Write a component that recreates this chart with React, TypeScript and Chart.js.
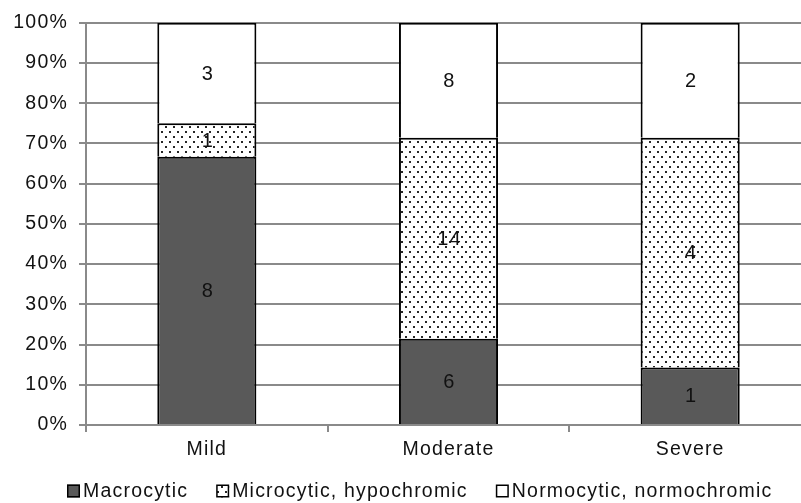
import React, { useEffect, useRef } from "react";
import { Chart, registerables } from "chart.js";

Chart.register(...registerables);

// ---- data ----
const categories = ["Mild", "Moderate", "Severe"];
const seriesNames = ["Macrocytic", "Microcytic, hypochromic", "Normocytic, normochromic"];
const macrocytic = [8, 6, 1];
const microcytic = [1, 14, 4];
const normocytic = [3, 8, 2];
const yTickValues = [0, 10, 20, 30, 40, 50, 60, 70, 80, 90, 100];

const FONT = '"Liberation Sans", Arial, sans-serif';
const FONT_SIZE = 19.5;
const SPACING = "1.2px";
const TEXT = "#111111";
const GRID = "#8a8a8a";

function makeDots(): CanvasPattern | string {
  const c = document.createElement("canvas");
  c.width = 8;
  c.height = 10;
  const g = c.getContext("2d");
  if (!g) return "#ddd";
  g.fillStyle = "#ffffff";
  g.fillRect(0, 0, 8, 10);
  g.fillStyle = "#262626";
  g.fillRect(1, 1, 2, 2);
  g.fillRect(5, 6, 2, 2);
  const p = g.createPattern(c, "repeat");
  return p || "#ddd";
}

export default function App() {
  const ref = useRef<HTMLCanvasElement | null>(null);

  useEffect(() => {
    const canvas = ref.current;
    if (!canvas) return;
    const counts = [macrocytic, microcytic, normocytic];
    const totals = categories.map((_, i) => counts.reduce((s, arr) => s + arr[i], 0));
    const pct = counts.map((arr) => arr.map((v, i) => (v / totals[i]) * 100));
    const dots = makeDots();
    const fills: (string | CanvasPattern)[] = ["#595959", dots, "#ffffff"];

    const spacingPlugin = {
      id: "spacing",
      beforeLayout(chart: any) {
        chart.ctx.letterSpacing = SPACING;
      },
      beforeDraw(chart: any) {
        chart.ctx.letterSpacing = SPACING;
      },
    };

    const labelPlugin = {
      id: "counts",
      afterDatasetsDraw(chart: any) {
        const ctx = chart.ctx as CanvasRenderingContext2D;
        ctx.save();
        ctx.font = `20px ${FONT}`;
        (ctx as any).letterSpacing = SPACING;
        ctx.fillStyle = TEXT;
        ctx.textAlign = "center";
        ctx.textBaseline = "middle";
        chart.data.datasets.forEach((_ds: any, di: number) => {
          const meta = chart.getDatasetMeta(di);
          meta.data.forEach((el: any, i: number) => {
            const p = el.getProps(["x", "y", "base"], true);
            ctx.fillText(String(counts[di][i]), p.x + 1, (p.y + p.base) / 2 + 1);
          });
        });
        ctx.restore();
      },
    };

    const legendPlugin = {
      id: "customLegend",
      afterDraw(chart: any) {
        const ctx = chart.ctx as CanvasRenderingContext2D;
        ctx.save();
        ctx.font = `${FONT_SIZE}px ${FONT}`;
        (ctx as any).letterSpacing = SPACING;
        ctx.textBaseline = "middle";
        ctx.textAlign = "left";
        let x = 67;
        const y = 491;
        seriesNames.forEach((name, i) => {
          ctx.fillStyle = fills[i] as any;
          ctx.fillRect(x, y - 6.5, 13, 13);
          ctx.strokeStyle = "#000";
          ctx.lineWidth = 1.5;
          ctx.strokeRect(x + 0.75, y - 5.75, 11.5, 11.5);
          ctx.fillStyle = TEXT;
          ctx.fillText(name, x + 16, y + 1);
          const w = ctx.measureText(name).width;
          x += 16 + w + 28;
        });
        ctx.restore();
      },
    };

    const chart = new Chart(canvas, {
      type: "bar",
      data: {
        labels: categories,
        datasets: seriesNames.map((name, i) => ({
          label: name,
          data: pct[i],
          backgroundColor: fills[i] as any,
          borderColor: "#000000",
          borderWidth: 2,
          borderSkipped: "start",
          categoryPercentage: 1,
          barPercentage: 0.41,
        })),
      },
      options: {
        animation: false,
        responsive: false,
        layout: { padding: { top: 17, right: 9, bottom: 30, left: 0 } },
        plugins: {
          legend: { display: false },
          tooltip: { enabled: false },
        },
        scales: {
          x: {
            stacked: true,
            offset: true,
            grid: {
              display: true,
              offset: true,
              drawOnChartArea: false,
              drawTicks: true,
              tickLength: 7,
              color: GRID,
              lineWidth: 2,
            },
            border: { display: true, color: GRID, width: 2 },
            ticks: {
              color: TEXT,
              font: { family: FONT, size: FONT_SIZE },
              padding: 6,
              maxRotation: 0,
            },
            afterFit(scale: any) {
              scale.height = 48;
            },
          },
          y: {
            stacked: true,
            min: 0,
            max: 100,
            afterBuildTicks(scale: any) {
              scale.ticks = yTickValues.map((v) => ({ value: v }));
            },
            grid: {
              color: GRID,
              lineWidth: 2,
              drawTicks: true,
              tickLength: 7,
            },
            border: { display: true, color: GRID, width: 2 },
            ticks: {
              color: TEXT,
              font: { family: FONT, size: FONT_SIZE },
              padding: 11,
              callback: (v: any) => `${v}%`,
            },
            afterFit(scale: any) {
              scale.width = 86;
            },
          },
        },
      },
      plugins: [spacingPlugin, labelPlugin, legendPlugin],
    });

    return () => chart.destroy();
  }, []);

  return (
    <div
      style={{
        position: "fixed",
        left: 0,
        top: 0,
        width: 801,
        height: 503,
        overflow: "hidden",
        background: "#fff",
      }}
    >
      <canvas ref={ref} width={820} height={503} style={{ display: "block" }} />
    </div>
  );
}
